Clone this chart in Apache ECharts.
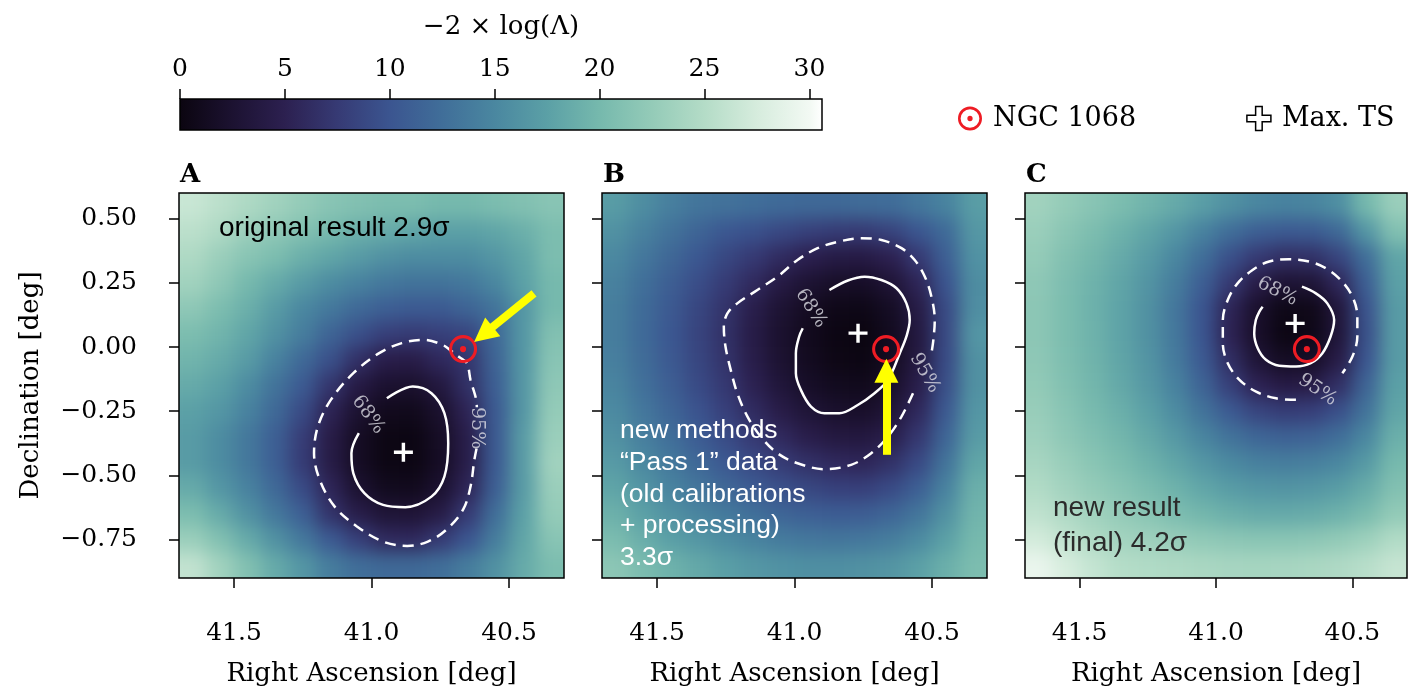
<!DOCTYPE html>
<html><head><meta charset="utf-8">
<script src="https://cdn.jsdelivr.net/npm/echarts@6/dist/echarts.min.js"></script>
<style>html,body{margin:0;padding:0;background:#fff;overflow:hidden;}#chart{width:1440px;height:693px;}</style>
</head><body><div id="chart"></div>
<script>
// ---------------- data ----------------
const raGrid  = [41.65, 41.55, 41.45, 41.35, 41.25, 41.15, 41.05, 40.95, 40.85, 40.75, 40.65, 40.55, 40.45, 40.35];
const decGrid = [0.55, 0.45, 0.35, 0.25, 0.15, 0.05, -0.05, -0.15, -0.25, -0.35, -0.45, -0.55, -0.65, -0.75, -0.85];

// -2 log(Lambda), rows = decGrid (top to bottom), cols = raGrid (left to right)
const tsA = [
 [26.5,25.5,24.5,23.5,22.5,21.5,21,20.5,20.5,20,20,20.5,21,21.5],
 [25.5,24.5,23,22,21,20,19,18.5,18,17.5,17.5,18,19,20.5],
 [24.5,23,21.5,20.5,19,18,17,16,15.5,15.5,15.5,16.5,18,20.5],
 [23.5,22,20,18.5,17,15.5,14.5,13.5,13,13,13.5,15,17.5,20],
 [22,20.5,19,17,15,13.5,12,11,10.5,10.5,11.5,13,16.5,20],
 [20.5,19.5,18,16,14,11.5,9.5,8,7.5,8,8.5,12,16.5,21],
 [19.5,18.5,17,14.5,12,9.5,6.5,4.5,4.3,5.8,7,11.5,16.5,21.5],
 [18.5,17.5,15.5,13,10.5,7,4,2.4,2.3,3.6,6.6,11,16.5,22],
 [17.5,16.5,14.5,12,9,5.3,2.5,1,0.9,2.3,5.4,10.5,16.5,22.5],
 [17,15.5,13.5,11,7.8,4.3,1.6,0.3,0.2,1.7,4.6,10.5,17,23],
 [17,15.5,13.5,11,7.6,4.2,1.6,0.3,0.2,1.6,4.6,10.5,17,23.5],
 [18.5,16.5,14.5,12,9,5.5,2.5,1.1,1,2.4,5.5,11,17,23],
 [20.5,18.5,16,13.5,11,6.8,4.4,3,2.9,4.2,7.5,12.5,17.5,22.5],
 [23,21,18.5,16,13.5,10.5,8,6,5.8,7.5,10,14,18,21.5],
 [26,23.5,21,18.5,16.5,14,12.5,12,12,12.5,14,16,18.5,20.5]
];
const tsB = [
 [17.1,15.6,14.2,13.2,12.9,12.5,12.1,12.0,12.0,12.3,12.4,13.4,14.6,17.2],
 [16.0,14.4,12.9,11.5,10.2,9.6,8.8,8.1,7.6,7.5,8.3,10.1,12.1,16.6],
 [15.1,13.4,11.8,10.2,8.7,7.4,6.1,4.9,4.1,4.0,5.0,7.4,11.0,16.1],
 [14.4,12.6,10.9,9.3,7.6,6.0,4.0,2.7,1.9,1.8,2.9,5.5,9.9,15.6],
 [14.1,12.2,10.4,8.6,6.8,4.6,2.7,1.4,0.6,0.5,1.5,4.2,9.0,15.7],
 [14.0,12.1,10.2,8.4,6.6,4.2,2.3,1.0,0.2,0.0,1.1,3.7,8.9,16.5],
 [14.2,12.3,10.4,8.6,6.8,4.4,2.5,1.2,0.4,0.2,1.3,3.9,9.0,16.0],
 [14.7,12.7,10.9,9.0,7.3,5.1,3.2,1.8,1.1,0.9,2.0,4.6,9.4,16.0],
 [15.3,13.4,11.6,9.8,8.0,6.1,4.3,3.0,2.2,2.0,3.1,5.8,10.4,16.5],
 [16.0,14.2,12.5,10.7,9.1,7.4,5.9,4.5,3.7,3.6,4.6,7.2,11.6,17.0],
 [16.9,15.1,13.5,11.9,10.3,8.9,7.6,6.5,5.8,5.5,6.6,8.9,13.0,18.0],
 [17.9,16.3,14.6,13.2,11.8,10.6,9.5,8.7,8.1,8.0,9.0,11.0,14.5,19.0],
 [19.1,17.5,16.0,14.7,13.6,12.6,11.6,11.0,10.7,10.8,11.6,13.2,16.0,19.5],
 [20.4,18.8,17.4,16.5,15.5,14.6,13.8,13.4,13.2,13.4,14.0,15.3,17.5,20.0],
 [21.8,20.4,19.3,18.3,17.4,16.6,16.1,15.8,15.8,16.0,16.4,17.5,19.0,20.5]
];
const tsC = [
 [23.5,22.5,21.5,20.5,19.5,18.5,17.3,16,15,14.6,14.8,15.8,20,23],
 [23,21.7,20.5,19.3,18,16.5,14.5,12.5,11,10.5,10.6,12,16.5,21],
 [22.5,21,19.8,18.5,17,15,12.5,9.5,7.5,6.4,6.6,8.5,12.5,18],
 [22,20.6,19.3,18,16.3,14,11,7.5,4.3,2.8,3,5.7,11,17.5],
 [21.8,20.5,19.2,17.8,16,13.4,10,5.5,2.2,0.5,0.7,3.4,9.8,17],
 [21.8,20.5,19.3,17.8,16,13.5,10,5.2,2,0.2,0.5,3.2,9.5,17],
 [22,20.7,19.4,18,16.3,13.8,10.5,6.3,3,1.5,1.8,4.3,10,17],
 [22.3,21,19.7,18.3,16.7,14.5,11.5,8,5.2,4,4.3,6.5,11.5,17.5],
 [22.8,21.5,20.2,19,17.5,15.5,13,10.5,8.5,7.7,8,9.5,13,18],
 [23.3,22,20.8,19.7,18.3,16.7,14.8,13,11.7,11.2,11.4,12.5,15,19],
 [24,22.8,21.6,20.5,19.3,18,16.5,15.2,14.3,14,14.2,15,16.8,20],
 [24.8,23.6,22.5,21.5,20.4,19.3,18.1,17.1,16.5,16.3,16.5,17.2,18.6,21],
 [25.8,24.6,23.5,22.5,21.6,20.6,19.7,19,18.5,18.4,18.6,19.2,20.3,22.3],
 [27.3,25.9,24.7,23.7,23.3,22.7,22.2,21.8,21.6,21.6,21.8,22.3,23.2,24.8],
 [29.3,27.6,26.2,25.1,24.8,24.5,24.2,24,23.9,24,24.2,24.6,25.3,26.3]
];

// contours [RA, Dec]
const contA68 = [[40.944,-0.200],[40.850,-0.154],[40.782,-0.180],[40.735,-0.258],[40.721,-0.375],[40.735,-0.505],[40.782,-0.583],[40.877,-0.624],[40.958,-0.615],[41.026,-0.569],[41.066,-0.492],[41.073,-0.414],[41.046,-0.336]];
const contA95 = [[40.618,-0.395],[40.626,-0.440],[40.640,-0.544],[40.667,-0.634],[40.728,-0.712],[40.795,-0.758],[40.870,-0.775],[40.958,-0.758],[41.053,-0.699],[41.134,-0.622],[41.188,-0.518],[41.209,-0.414],[41.195,-0.310],[41.148,-0.206],[41.066,-0.102],[40.972,-0.024],[40.890,0.015],[40.809,0.028],[40.741,0.008],[40.707,-0.018],[40.680,-0.040],[40.653,-0.063],[40.640,-0.128],[40.619,-0.206],[40.617,-0.235]];
const contB68 = [[40.873,0.222],[40.806,0.259],[40.745,0.274],[40.684,0.261],[40.629,0.229],[40.593,0.170],[40.581,0.105],[40.593,0.041],[40.617,-0.024],[40.660,-0.128],[40.709,-0.180],[40.770,-0.226],[40.837,-0.258],[40.891,-0.258],[40.940,-0.232],[40.977,-0.167],[40.995,-0.102],[40.995,-0.024],[40.983,0.041],[40.970,0.073]];
const contB95 = [[40.569,-0.180],[40.611,-0.271],[40.660,-0.349],[40.721,-0.414],[40.794,-0.459],[40.891,-0.476],[40.989,-0.453],[41.062,-0.414],[41.123,-0.349],[41.171,-0.271],[41.208,-0.180],[41.232,-0.089],[41.251,0.002],[41.257,0.079],[41.244,0.131],[41.208,0.170],[41.135,0.222],[41.062,0.274],[40.989,0.339],[40.916,0.385],[40.842,0.410],[40.757,0.424],[40.684,0.417],[40.611,0.385],[40.563,0.339],[40.526,0.274],[40.502,0.196],[40.490,0.105],[40.495,0.028],[40.502,-0.024]];
const contC68 = [[40.685,0.235],[40.634,0.209],[40.592,0.170],[40.567,0.105],[40.580,0.041],[40.610,-0.024],[40.653,-0.063],[40.707,-0.076],[40.768,-0.073],[40.817,-0.050],[40.847,-0.005],[40.860,0.054],[40.854,0.105],[40.841,0.138],[40.829,0.157]];
const contC95 = [[40.707,-0.206],[40.780,-0.200],[40.853,-0.174],[40.914,-0.128],[40.957,-0.063],[40.975,0.015],[40.975,0.105],[40.957,0.183],[40.921,0.248],[40.866,0.300],[40.805,0.333],[40.732,0.342],[40.659,0.333],[40.598,0.307],[40.543,0.261],[40.500,0.196],[40.482,0.118],[40.482,0.041],[40.500,-0.037],[40.537,-0.102]];

// contour label anchors [RA, Dec, text]
const labelsA = [[41.012,-0.264,'68%'],[40.617,-0.316,'95%']];
const labelsB = [[40.940,0.151,'68%'],[40.526,-0.102,'95%']];
const labelsC = [[40.775,0.216,'68%'],[40.628,-0.167,'95%']];

const ngc1068 = [40.667,-0.008];
const maxTsA = [40.884,-0.410];
const maxTsB = [40.769,0.054];
const maxTsC = [40.710,0.092];

const arrowA = [[40.409,0.209],[40.593,0.049]];
const arrowB = [[40.666,-0.420],[40.666,-0.093]];

const raRange  = [40.3, 41.7];
const decRange = [-0.9, 0.6];
const raTicks  = [41.5, 41.0, 40.5];
const decTicks = [0.5, 0.25, 0, -0.25, -0.5, -0.75];
const cbTicks  = [0, 5, 10, 15, 20, 25, 30];
const cbRange  = [0, 30.6];
const cmapValues = [0, 2.5, 5, 7.5, 10, 12.5, 15, 17.5, 20, 22.5, 25, 27.5, 30];
const cmapColors = ['#0b0510','#1c1231','#2c2050','#363a74','#3b5590','#406e99','#4a87a0','#5ba0a6','#76b9ad','#94cbb8','#b4dcc7','#d6ecdd','#f2f9f3'];

// ---------------- build ----------------
// RA grows to the left: the x axis carries -RA so that it reads right-to-left without an inverted axis
const X = ra => -ra;
const P = pt => [X(pt[0]), pt[1]];
const SERIF = 'DejaVu Serif', SANS = 'Liberation Sans';
const chart = echarts.init(document.getElementById('chart'));
const hx = Math.abs(raGrid[1]-raGrid[0])/2, hy = Math.abs(decGrid[1]-decGrid[0])/2;
const EDGE_PAD = 18;   // outer cells are painted a bit past the frame (hidden by the clip) so the soft-focus layer does not fade
const SOFT = 9;        // soft-focus radius of the colour-map layer, px

function cellsOf(ts){ const out=[]; decGrid.forEach((d,r)=>raGrid.forEach((a,c)=>out.push([X(a),d,ts[r][c]]))); return out; }
function renderCell(params, api){
  const a=api.value(0), d=api.value(1);
  const p1=api.coord([a-hx,d+hy]), p2=api.coord([a+hx,d-hy]);
  let x0=Math.min(p1[0],p2[0]), x1=Math.max(p1[0],p2[0])+0.8, y0=Math.min(p1[1],p2[1]), y1=Math.max(p1[1],p2[1])+0.8;
  const cs=params.coordSys;
  if (x0 <= cs.x+1) x0 -= EDGE_PAD;
  if (x1 >= cs.x+cs.width-1) x1 += EDGE_PAD;
  if (y0 <= cs.y+1) y0 -= EDGE_PAD;
  if (y1 >= cs.y+cs.height-1) y1 += EDGE_PAD;
  return {type:'rect', shape:{x:x0, y:y0, width:x1-x0, height:y1-y0}, style:{fill:api.visual('color')}};
}
const PANEL_TOP = 193, PANEL_H = 385;
const panels = [
  {left:179, width:385, ts:tsA, c68:contA68, c95:contA95, labels:labelsA, rot:[-54,-90], mx:maxTsA, arrow:arrowA},
  {left:602, width:385, ts:tsB, c68:contB68, c95:contB95, labels:labelsB, rot:[-58,-60], mx:maxTsB, arrow:arrowB},
  {left:1025, width:382, ts:tsC, c68:contC68, c95:contC95, labels:labelsC, rot:[-27,-34], mx:maxTsC, arrow:null}
];
const ringPath = 'path://M0,10A10,10,0,1,0,20,10A10,10,0,1,0,0,10ZM2.2,10A7.8,7.8,0,1,1,17.8,10A7.8,7.8,0,1,1,2.2,10ZM7.8,10A2.2,2.2,0,1,0,12.2,10A2.2,2.2,0,1,0,7.8,10Z';
const plusThin = 'path://M8.2,0H11.8V8.2H20V11.8H11.8V20H8.2V11.8H0V8.2H8.2Z';
const plusThick = 'path://M8,0H14V8H22V14H14V22H8V14H0V8H8Z';

const grids=[], xAxes=[], yAxes=[], series=[];
const tickStyle = {color:'#000', width:1.5};
const ZL = 1; // everything except the colour maps lives on layer 1
const raTickVals = raTicks.map(X);
panels.forEach((p,i)=>{
  grids.push({left:p.left, top:PANEL_TOP, width:p.width, height:PANEL_H, show:true, backgroundColor:'transparent', borderColor:'#000', borderWidth:1.5, z:10, zlevel:ZL});
  xAxes.push({type:'value', gridIndex:i, position:'bottom', min:X(raRange[1]), max:X(raRange[0]), zlevel:ZL,
    axisLine:{show:false, onZero:false}, splitLine:{show:false},
    axisTick:{show:true, length:10, lineStyle:tickStyle, customValues:raTickVals},
    axisLabel:{show:true, customValues:raTickVals, formatter:v=>(-Number(v)).toFixed(1), margin:43, color:'#000', fontFamily:SERIF, fontSize:25},
    name:'Right Ascension [deg]', nameLocation:'middle', nameGap:83,
    nameTextStyle:{fontFamily:SERIF, fontSize:26, color:'#000'}});
  yAxes.push({type:'value', gridIndex:i, position:'left', min:decRange[0], max:decRange[1], zlevel:ZL,
    axisLine:{show:false, onZero:false}, splitLine:{show:false},
    axisTick:{show:true, length:10, lineStyle:tickStyle, customValues:decTicks},
    axisLabel:{show:i===0, customValues:decTicks, formatter:v=>(v<0?'\u2212':'')+Math.abs(v).toFixed(2), margin:42, color:'#000', fontFamily:SERIF, fontSize:25},
    name:i===0?'Declination [deg]':'', nameLocation:'middle', nameRotate:90, nameGap:135,
    nameTextStyle:{fontFamily:SERIF, fontSize:26, color:'#000'}});
});
// colorbar axes (index 3)
grids.push({left:180, top:99, width:642, height:31, show:true, backgroundColor:'transparent', borderColor:'#000', borderWidth:1.5, z:10, zlevel:ZL});
xAxes.push({type:'value', gridIndex:3, position:'top', min:cbRange[0], max:cbRange[1], zlevel:ZL,
  axisLine:{show:false, onZero:false}, splitLine:{show:false},
  axisTick:{show:true, length:10, lineStyle:tickStyle, customValues:cbTicks},
  axisLabel:{show:true, customValues:cbTicks, margin:17, color:'#000', fontFamily:SERIF, fontSize:25},
  name:'\u22122 \u00d7 log(\u039b)', nameLocation:'middle', nameGap:59,
  nameTextStyle:{fontFamily:SERIF, fontSize:26, color:'#000'}});
yAxes.push({type:'value', gridIndex:3, min:0, max:1, show:false, zlevel:ZL});

// colour maps (series 0..2) on layer 0
panels.forEach((p,i)=>{
  series.push({type:'custom', name:'ts'+i, xAxisIndex:i, yAxisIndex:i, data:cellsOf(p.ts), renderItem:renderCell, clip:false, silent:true, z:1, zlevel:0, encode:{x:0,y:1}});
});
// colorbar (series 3)
const cbStops = cmapValues.map((v,k)=>({offset:v/cbRange[1], color:cmapColors[k]})).concat([{offset:1, color:'#ffffff'}]);
series.push({type:'custom', name:'colorbar', xAxisIndex:3, yAxisIndex:3, data:[cbRange], silent:true, z:1, zlevel:ZL,
  renderItem:(params, api)=>{
    const p1=api.coord([api.value(0),1]), p2=api.coord([api.value(1),0]);
    return {type:'rect', shape:{x:p1[0], y:p1[1], width:p2[0]-p1[0], height:p2[1]-p1[1]}, style:{fill:new echarts.graphic.LinearGradient(0,0,1,0,cbStops)}};
  }});
panels.forEach((p,i)=>{
  series.push({type:'line', name:'c68_'+i, xAxisIndex:i, yAxisIndex:i, data:p.c68.map(P), symbol:'none', smooth:0.35, silent:true, z:3, zlevel:ZL,
    lineStyle:{color:'#ffffff', width:2.5}, emphasis:{disabled:true}});
  series.push({type:'line', name:'c95_'+i, xAxisIndex:i, yAxisIndex:i, data:p.c95.map(P), symbol:'none', smooth:0.35, silent:true, z:3, zlevel:ZL,
    lineStyle:{color:'#ffffff', width:2.5, type:[11,7]}, emphasis:{disabled:true}});
  series.push({type:'scatter', name:'lab_'+i, xAxisIndex:i, yAxisIndex:i, symbolSize:1, silent:true, z:4, zlevel:ZL,
    itemStyle:{color:'rgba(0,0,0,0)'},
    data:p.labels.map((l,k)=>({value:[X(l[0]),l[1]], label:{show:true, position:'inside', formatter:l[2], rotate:p.rot[k], color:'#dcdce4', fontFamily:SERIF, fontSize:19}}))});
  series.push({type:'scatter', name:'NGC 1068', xAxisIndex:i, yAxisIndex:i, data:[P(ngc1068)], symbol:ringPath, symbolSize:28, silent:true, z:5, zlevel:ZL,
    itemStyle:{color:'#ee1c24', opacity:1}});
  series.push({type:'scatter', name:'Max. TS', xAxisIndex:i, yAxisIndex:i, data:[P(p.mx)], symbol:plusThin, symbolSize:19, silent:true, z:5, zlevel:ZL,
    itemStyle:{color:'#ffffff', opacity:1}});
  if (p.arrow) series.push({type:'lines', name:'arrow_'+i, coordinateSystem:'cartesian2d', xAxisIndex:i, yAxisIndex:i, silent:true, z:6, zlevel:ZL,
    data:[{coords:p.arrow.map(P)}], symbol:['none','triangle'], symbolSize:[26,24],
    lineStyle:{color:'#ffff00', width:8, opacity:1, curveness:0}});
});

const txt = (x,y,style)=>({type:'text', x:x, y:y, z:20, zlevel:ZL, style:style});
const option = {
  animation:false,
  backgroundColor:'transparent',
  grid:grids, xAxis:xAxes, yAxis:yAxes, series:series,
  visualMap:{type:'continuous', show:false, min:0, max:30, dimension:2, seriesIndex:[0,1,2], inRange:{color:cmapColors}},
  legend:{left:958, top:105, padding:0, itemWidth:24, itemHeight:24, itemGap:110, selectedMode:false, zlevel:ZL,
    textStyle:{fontFamily:SERIF, fontSize:27, color:'#000', padding:[0,0,0,6]},
    data:[{name:'NGC 1068', icon:ringPath, itemStyle:{color:'#ee1c24', opacity:1}},
          {name:'Max. TS', icon:plusThick, itemStyle:{color:'#ffffff', borderColor:'#000', borderWidth:1.5, opacity:1}}]},
  graphic:[
    txt(180,175,{text:'A', fontFamily:SERIF, fontWeight:'bold', fontSize:26, fill:'#000', verticalAlign:'middle'}),
    txt(603,175,{text:'B', fontFamily:SERIF, fontWeight:'bold', fontSize:26, fill:'#000', verticalAlign:'middle'}),
    txt(1026,175,{text:'C', fontFamily:SERIF, fontWeight:'bold', fontSize:26, fill:'#000', verticalAlign:'middle'}),
    txt(219,228,{text:'original result 2.9\u03c3', fontFamily:SANS, fontSize:28, fill:'#000', verticalAlign:'middle'}),
    txt(620,415,{text:'new methods\n\u201cPass 1\u201d data\n(old calibrations\n+ processing)\n3.3\u03c3', fontFamily:SANS, fontSize:26.5, lineHeight:31.7, fill:'#ffffff', verticalAlign:'top'}),
    txt(1053,491,{text:'new result\n(final) 4.2\u03c3', fontFamily:SANS, fontSize:28, lineHeight:35, fill:'#2b2b2b', verticalAlign:'top'})
  ]
};
chart.setOption(option);

// soft-focus the colour-map layer and clip it to the panel frames
function softenMaps(){
  const c = document.querySelector('#chart canvas[data-zr-dom-id="zr_0"]');
  if (!c) return;
  const path = panels.map(p=>`M${p.left},${PANEL_TOP}H${p.left+p.width}V${PANEL_TOP+PANEL_H}H${p.left}Z`).join(' ');
  c.style.filter = `blur(${SOFT}px)`;
  c.style.clipPath = `path('${path}')`;
}
softenMaps();
chart.on('finished', softenMaps);
</script></body></html>
